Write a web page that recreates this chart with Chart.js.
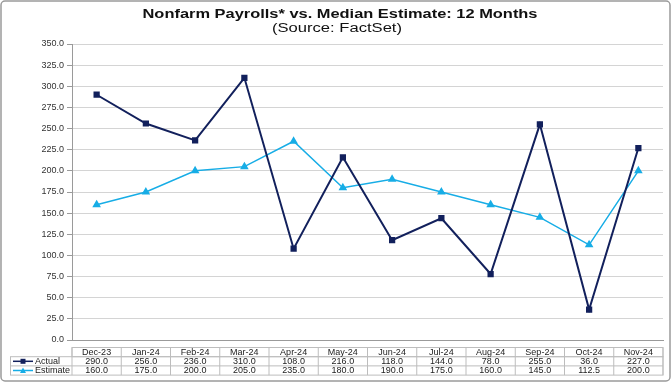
<!DOCTYPE html>
<html>
<head>
<meta charset="utf-8">
<script src="https://cdn.jsdelivr.net/npm/chart.js@4"></script>
<style>
  html, body { margin: 0; padding: 0; background: #fff; }
  #wrap { width: 672px; height: 384px; position: relative; }
</style>
</head>
<body>
<div id="wrap"><canvas id="chart"></canvas></div>
<script>
// data
var months = ['Dec-23', 'Jan-24', 'Feb-24', 'Mar-24', 'Apr-24', 'May-24', 'Jun-24', 'Jul-24', 'Aug-24', 'Sep-24', 'Oct-24', 'Nov-24'];
var actual = [290, 256, 236, 310, 108, 216, 118, 144, 78, 255, 36, 227];
var estimate = [160, 175, 200, 205, 235, 180, 190, 175, 160, 145, 112.5, 200];
var titleText = 'Nonfarm Payrolls* vs. Median Estimate: 12 Months';
var subtitleText = '(Source: FactSet)';

var navy = '#12205c';
var cyan = '#17ade6';
var font = '"Liberation Sans", Arial, sans-serif';

// outer frame
var framePlugin = {
  id: 'frame',
  beforeDraw: function(chart) {
    var ctx = chart.ctx;
    ctx.save();
    ctx.fillStyle = '#fff';
    ctx.fillRect(0, 0, chart.width, chart.height);
    ctx.strokeStyle = '#9a9a9a';
    ctx.lineWidth = 1.5;
    ctx.beginPath();
    ctx.roundRect(1, 1, 669, 380, 4);
    ctx.stroke();
    ctx.restore();
  }
};

// titles in the reference are stretched wide, so draw them scaled
function wideText(ctx, text, cx, cy, fnt, width) {
  ctx.save();
  ctx.font = fnt;
  var w = ctx.measureText(text).width;
  ctx.translate(cx, cy);
  ctx.scale(width / w, 1);
  ctx.textAlign = 'center';
  ctx.textBaseline = 'middle';
  ctx.fillStyle = '#111';
  ctx.fillText(text, 0, 0);
  ctx.restore();
}

var titlePlugin = {
  id: 'wideTitle',
  afterDraw: function(chart) {
    var ctx = chart.ctx;
    wideText(ctx, titleText, 340, 14.5, 'bold 12px ' + font, 395);
    wideText(ctx, subtitleText, 337, 28.5, '12px ' + font, 130);
  }
};

// data table under the plot, columns follow the x scale
var tablePlugin = {
  id: 'dataTable',
  afterDraw: function(chart) {
    var ctx = chart.ctx;
    var a = chart.chartArea;
    var x = chart.scales.x;
    var n = months.length;
    var colW = (a.right - a.left) / n;
    var rowH = 9.2;
    var top = a.bottom + 7.5;
    var legL = 10.5;
    var rows = [
      { name: 'Actual', color: navy, style: 'rect', vals: actual },
      { name: 'Estimate', color: cyan, style: 'triangle', vals: estimate }
    ];

    ctx.save();
    ctx.strokeStyle = '#bdbdbd';
    ctx.lineWidth = 1;
    ctx.strokeRect(a.left, top, a.right - a.left, rowH);
    ctx.strokeRect(legL, top + rowH, a.right - legL, rowH * 2);
    ctx.beginPath();
    ctx.moveTo(legL, top + rowH * 2);
    ctx.lineTo(a.right, top + rowH * 2);
    for (var i = 0; i <= n; i++) {
      var cx = a.left + colW * i;
      ctx.moveTo(cx, top);
      ctx.lineTo(cx, top + rowH * 3);
    }
    ctx.stroke();

    ctx.fillStyle = '#222';
    ctx.font = '9px ' + font;
    ctx.textAlign = 'center';
    ctx.textBaseline = 'middle';
    for (var j = 0; j < n; j++) {
      var px = x.getPixelForValue(j);
      ctx.fillText(months[j], px, top + rowH / 2 + 0.5);
      ctx.fillText(actual[j].toFixed(1), px, top + rowH * 1.5 + 0.5);
      ctx.fillText(estimate[j].toFixed(1), px, top + rowH * 2.5 + 0.5);
    }

    // legend keys
    rows.forEach(function(r, k) {
      var cy = top + rowH * (k + 1.5);
      ctx.strokeStyle = r.color;
      ctx.lineWidth = 1.5;
      ctx.beginPath();
      ctx.moveTo(13, cy);
      ctx.lineTo(33, cy);
      ctx.stroke();
      ctx.fillStyle = r.color;
      if (r.style === 'rect') {
        ctx.fillRect(20.5, cy - 2.5, 5, 5);
      } else {
        ctx.beginPath();
        ctx.moveTo(23, cy - 3);
        ctx.lineTo(26, cy + 2.5);
        ctx.lineTo(20, cy + 2.5);
        ctx.closePath();
        ctx.fill();
      }
      ctx.fillStyle = '#222';
      ctx.textAlign = 'left';
      ctx.fillText(r.name, 35, cy + 0.5);
    });
    ctx.restore();
  }
};

new Chart(document.getElementById('chart'), {
  type: 'line',
  data: {
    labels: months,
    datasets: [{
      label: 'Actual',
      data: actual,
      borderColor: navy,
      backgroundColor: navy,
      borderWidth: 2,
      pointStyle: 'rect',
      pointRadius: 3,
      tension: 0
    }, {
      label: 'Estimate',
      data: estimate,
      borderColor: cyan,
      backgroundColor: cyan,
      borderWidth: 1.5,
      pointStyle: 'triangle',
      pointRadius: 3.5,
      tension: 0
    }]
  },
  options: {
    responsive: true,
    maintainAspectRatio: false,
    animation: false,
    layout: { padding: { left: 0, right: 9, top: 44, bottom: 36 } },
    plugins: {
      legend: { display: false },
      tooltip: { enabled: false },
      title: { display: false }
    },
    scales: {
      x: {
        offset: true,
        grid: { display: false },
        ticks: { display: false },
        border: { display: true, color: '#9a9a9a', width: 1 }
      },
      y: {
        min: 0,
        max: 350,
        afterFit: function(s) { s.width = 72; },
        ticks: {
          stepSize: 25,
          color: '#333',
          padding: 3,
          font: { family: font, size: 9 },
          callback: function(v) { return v.toFixed(1); }
        },
        grid: { color: '#d4d4d4', lineWidth: 1, tickLength: 5, tickColor: '#9a9a9a' },
        border: { display: true, color: '#9a9a9a', width: 1 }
      }
    }
  },
  plugins: [framePlugin, titlePlugin, tablePlugin]
});
</script>
</body>
</html>
